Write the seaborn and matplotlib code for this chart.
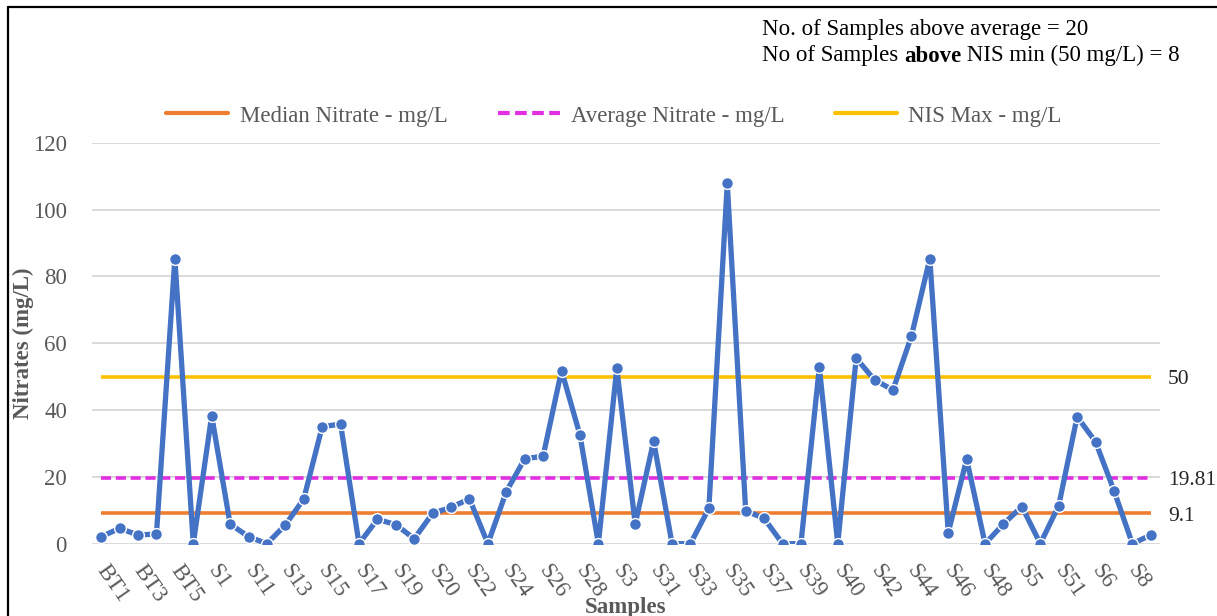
import matplotlib
matplotlib.use("Agg")
import matplotlib.pyplot as plt
from matplotlib.lines import Line2D
import numpy as np
import pandas as pd
import seaborn as sns

# Sample IDs in sheet (lexicographic) order
samples = (["BT1", "BT2", "BT3", "BT4", "BT5", "BT6"]
           + ["S1"] + [f"S1{i}" for i in range(10)]
           + ["S2"] + [f"S2{i}" for i in range(10)]
           + ["S3"] + [f"S3{i}" for i in range(10)]
           + ["S4"] + [f"S4{i}" for i in range(10)]
           + ["S5", "S50", "S51", "S52", "S6", "S7", "S8", "S9"])

nitrate = [2.1, 4.6, 2.6, 2.9, 85.3, 0.0, 38.3, 5.9, 2.1, 0.0,
           5.6, 13.4, 35.0, 35.8, 0.0, 7.3, 5.7, 1.5, 9.1, 10.9,
           13.4, 0.0, 15.6, 25.4, 26.2, 51.8, 32.5, 0.0, 52.5, 5.9,
           30.7, 0.0, 0.0, 10.6, 107.8, 9.8, 7.6, 0.0, 0.0, 52.8,
           0.0, 55.5, 49.0, 46.0, 62.1, 85.3, 3.3, 25.3, 0.0, 5.9,
           11.1, 0.0, 11.4, 38.0, 30.5, 15.9, 0.0, 2.6]

median_nitrate = 9.1
average_nitrate = 19.81
nis_max = 50

ref_labels = ["Median Nitrate - mg/L", "Average Nitrate - mg/L", "NIS Max - mg/L"]
ref_values = [median_nitrate, average_nitrate, nis_max]
ref_value_text = ["9.1", "19.81", "50"]

df = pd.DataFrame({"idx": np.arange(len(samples)), "sample": samples, "nitrate": nitrate})

sns.set_theme(style="white")
plt.rcParams["font.family"] = ["Liberation Serif", "DejaVu Serif"]

GRAY = "#595959"
BLUE = "#4472C4"
ORANGE = "#ED7D31"
MAGENTA = "#E22FE2"
GOLD = "#FFC000"
FS = 16.5

W, H = 1217, 616
fig = plt.figure(figsize=(W / 100, H / 100), dpi=100)
ax = fig.add_axes([92 / W, 1 - 543.7 / H, (1160 - 92) / W, (543.7 - 142.7) / H])

n = len(samples)
ax.set_xlim(-0.5, n - 0.5)
ax.set_ylim(0, 120)
ax.set_yticks(np.arange(0, 121, 20))
ax.yaxis.grid(True, color="#D9D9D9", linewidth=1.4)
ax.set_axisbelow(True)
for s in ax.spines.values():
    s.set_visible(False)

# Reference lines, drawn from the first to the last sample
ax.hlines(median_nitrate, 0, n - 1, color=ORANGE, linewidth=2.6, zorder=2)
ax.hlines(average_nitrate, 0, n - 1, color=MAGENTA, linewidth=2.6,
          linestyles=(0, (2.8, 1.3)), zorder=2)
ax.hlines(nis_max, 0, n - 1, color=GOLD, linewidth=2.6, zorder=2)

# Nitrate series
sns.lineplot(data=df, x="idx", y="nitrate", ax=ax, color=BLUE, linewidth=3.8,
             marker="o", markersize=8.5, markerfacecolor=BLUE,
             markeredgecolor="white", markeredgewidth=1.0, zorder=3)

ax.set_xticks(df["idx"][::2])
ax.set_xticklabels(df["sample"][::2], rotation=-55, ha="left",
                   rotation_mode="anchor", va="center", color=GRAY, fontsize=FS)
ax.tick_params(axis="x", length=0, pad=17)
ax.tick_params(axis="y", length=0, pad=18, labelsize=FS, labelcolor=GRAY)

ax.set_ylabel("Nitrates (mg/L)", fontsize=FS, fontweight="bold", color=GRAY)
ax.yaxis.set_label_coords(-58 / (1160 - 92), 0.5)
ax.set_xlabel("Samples", fontsize=FS, fontweight="bold", color=GRAY)
ax.xaxis.set_label_coords(0.5, -(597 - 543.7) / (543.7 - 142.7))

# Value tags on the right of the reference lines
for val, txt in zip(ref_values, ref_value_text):
    ax.annotate(txt, xy=(n - 1, val), xytext=(12.5, -2), textcoords="offset points",
                ha="left", va="center", fontsize=15.5, color="#262626",
                annotation_clip=False)

# Legend
handles = [Line2D([], [], color=ORANGE, linewidth=3),
           Line2D([], [], color=MAGENTA, linewidth=3, linestyle=(0, (2.8, 1.3))),
           Line2D([], [], color=GOLD, linewidth=3)]
fig.legend(handles, ref_labels, loc="center", bbox_to_anchor=(614 / W, 1 - 116 / H),
           ncol=3, frameon=False, fontsize=FS, handlelength=2.7,
           handletextpad=0.5, columnspacing=2.2, labelcolor=GRAY)

# Summary notes
fig.text(762 / W, 1 - 29 / H, "No. of Samples above average = 20",
         ha="left", va="center", fontsize=FS, color="black")
t1 = fig.text(762 / W, 1 - 56 / H, "No of Samples ",
              ha="left", va="center", fontsize=FS, color="black")
t2 = fig.text(0, 0, "above", fontsize=FS, fontweight="bold", color="black",
              ha="left", va="bottom")
fig.canvas.draw()
bb = t1.get_window_extent()
t2.set_position((bb.x1 / W, bb.y0 / H))
fig.canvas.draw()
bb2 = t2.get_window_extent()
fig.text(bb2.x1 / W, bb.y0 / H, " NIS min (50 mg/L) = 8", fontsize=FS,
         color="black", ha="left", va="bottom")

# Chart frame
fig.add_artist(Line2D([8 / W, 8 / W], [0, 1 - 7 / H], color="black", linewidth=1.6))
fig.add_artist(Line2D([8 / W, 1], [1 - 7 / H, 1 - 7 / H], color="black", linewidth=1.6))

fig.savefig("out.png", dpi=100, facecolor="white")
